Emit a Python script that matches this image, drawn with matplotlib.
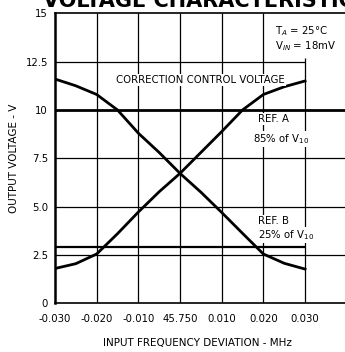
import matplotlib
matplotlib.use("Agg")
import matplotlib.pyplot as plt

plt.rcParams['font.family'] = ['DejaVu Sans']

# frequency deviation (MHz, relative to 45.750)
freq = [-0.030, -0.025, -0.020, -0.015, -0.010, -0.005, 0.0,
        0.005, 0.010, 0.015, 0.020, 0.025, 0.030]
# two output curves (V)
out_falling = [11.6, 11.25, 10.8, 10.0, 8.8, 7.8, 6.72,
               5.75, 4.7, 3.62, 2.55, 2.07, 1.77]
out_rising = [1.8, 2.05, 2.55, 3.6, 4.72, 5.77, 6.72,
              7.8, 8.88, 10.0, 10.8, 11.2, 11.5]

ref_a = 10.0   # 85% of V10
ref_b = 2.93   # 25% of V10

x_ticks = [-0.030, -0.020, -0.010, 0.0, 0.010, 0.020, 0.030]
x_labels = ["-0.030", "-0.020", "-0.010", "45.750", "0.010", "0.020", "0.030"]
y_ticks = [0, 2.5, 5.0, 7.5, 10, 12.5, 15]
y_labels = ["0", "2.5", "5.0", "7.5", "10", "12.5", "15"]

fig = plt.figure(figsize=(3.45, 3.52), dpi=100)
ax = fig.add_axes([55 / 345, 48.7 / 352, 291.7 / 345, 290 / 352])
ax.set_xlim(-0.030, 0.040)
ax.set_ylim(0, 15)

# grid
ax.vlines(x_ticks[1:-1], 0, 15, color='black', lw=0.9, zorder=1)
ax.vlines(x_ticks[-1], 0, 12.7, color='black', lw=0.9, zorder=1)
ax.hlines([2.5, 5.0, 7.5], -0.030, 0.040, color='black', lw=0.9, zorder=1)
ax.hlines(12.5, -0.030, 0.030, color='black', lw=0.9, zorder=1)

# reference levels
ax.hlines(ref_a, -0.030, 0.040, color='black', lw=2.0, zorder=2)
ax.hlines(ref_b, -0.030, 0.030, color='black', lw=1.6, zorder=2)

ax.plot(freq, out_falling, color='black', lw=2.0, zorder=3)
ax.plot(freq, out_rising, color='black', lw=2.0, zorder=3)

box = dict(facecolor='white', edgecolor='none', pad=0.8)
ax.text(0.0048, 11.55, "CORRECTION CONTROL VOLTAGE", ha='center', va='center',
        fontsize=7.3, bbox=box, zorder=4)
ax.text(0.0186, 9.55, "REF. A", ha='left', va='center', fontsize=7.3, bbox=box, zorder=4)
ax.text(0.0176, 8.5, "85% of V$_{10}$", ha='left', va='center', fontsize=7.3, bbox=box, zorder=4)
ax.text(0.0187, 4.25, "REF. B", ha='left', va='center', fontsize=7.3, bbox=box, zorder=4)
ax.text(0.0187, 3.55, "25% of V$_{10}$", ha='left', va='center', fontsize=7.3, bbox=box, zorder=4)
ax.text(0.0228, 14.1, "T$_A$ = 25°C", ha='left', va='center', fontsize=7.3, zorder=4)
ax.text(0.0228, 13.3, "V$_{IN}$ = 18mV", ha='left', va='center', fontsize=7.3, zorder=4)

ax.set_xticks(x_ticks, x_labels, fontsize=7.3)
ax.set_yticks(y_ticks, y_labels, fontsize=7.3)
ax.tick_params(length=0)
ax.tick_params(axis='x', pad=8)
ax.tick_params(axis='y', pad=5)
ax.spines['right'].set_visible(False)
ax.spines['left'].set_linewidth(1.8)
ax.spines['bottom'].set_linewidth(1.2)
ax.spines['top'].set_linewidth(1.2)

ax.set_xlabel("INPUT FREQUENCY DEVIATION - MHz", fontsize=7.5)
ax.xaxis.set_label_coords(0.487, -0.12)
ax.set_ylabel("OUTPUT VOLTAGE - V", fontsize=7.5)
ax.yaxis.set_label_coords(-0.123, 0.5)

# title, cut off at the top edge as in the source scan
fig.text(43 / 345, 1 - 7 / 352, "VOLTAGE CHARACTERISTIC", ha='left', va='baseline',
         fontsize=15, fontweight='bold')

fig.savefig("out.png", dpi=100)
